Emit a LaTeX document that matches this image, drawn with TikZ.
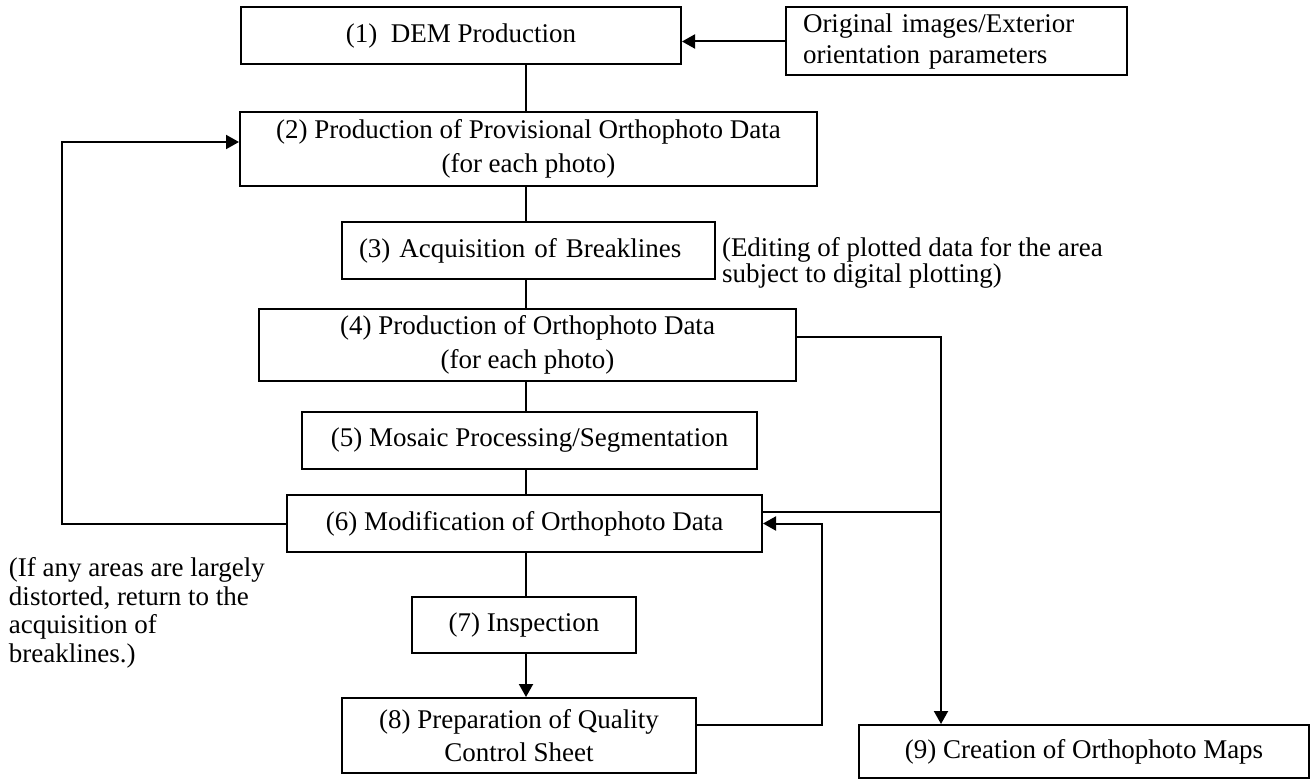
\documentclass[tikz,border=0pt]{standalone}
\usepackage{fontspec}
\setmainfont{Liberation Serif}
\usetikzlibrary{arrows.meta,calc}
\begin{document}
\begin{tikzpicture}[x=0.5pt,y=-0.5pt,line width=1pt,
  box/.style={draw,line width=1pt,inner sep=2pt,align=center,
    font=\fontsize{13.5}{17}\selectfont},
  leftbox/.style={box,align=left,inner xsep=8.5pt},
  remark/.style={inner sep=0pt,align=left,anchor=west},
  arr/.style={-{Triangle[length=6.5pt,width=7pt]}}]
\useasboundingbox (0,0) rectangle (1311,780);

% process boxes
\node[box,minimum width=220pt,minimum height=28.5pt] (b1) at (461,36) {(1)\ \ DEM Production};
\node[leftbox,text width=153.5pt,minimum height=34pt,
  font=\fontsize{13.5}{15.5}\selectfont] (orig) at (956.5,41.5)
  {Original images/Exterior\\orientation parameters};
\node[box,minimum width=288.5pt,minimum height=37pt] (b2) at (528.5,149)
  {(2) Production of Provisional Orthophoto Data\\(for each photo)};
\node[leftbox,text width=169.5pt,minimum height=28.5pt] (b3) at (528.5,250.5)
  {(3) Acquisition of Breaklines};
\node[box,minimum width=268.5pt,minimum height=36pt] (b4) at (527.5,345)
  {(4) Production of Orthophoto Data\\(for each photo)};
\node[box,minimum width=227.5pt,minimum height=28.5pt] (b5) at (529.5,440.5)
  {(5) Mosaic Processing/Segmentation};
\node[box,minimum width=237.5pt,minimum height=28.5pt] (b6) at (524.5,523.5)
  {(6) Modification of Orthophoto Data};
\node[box,minimum width=112pt,minimum height=28pt] (b7) at (524,625)
  {(7) Inspection};
\node[box,minimum width=177pt,minimum height=37.5pt,
  font=\fontsize{13.5}{16.5}\selectfont] (b8) at (519,735.5)
  {(8) Preparation of Quality\\Control Sheet};
\node[box,minimum width=225pt,minimum height=26.5pt] (b9) at (1084,751.5)
  {(9) Creation of Orthophoto Maps};

% side remarks
\node[remark,font=\fontsize{13.5}{11}\selectfont] (edit) at (721,263)
  {(Editing of plotted data for the area\\subject to digital plotting)};
\node[remark,font=\fontsize{13.5}{14.25}\selectfont] (ret) at (8,613)
  {(If any areas are largely\\distorted, return to the\\acquisition of\\breaklines.)};

% main vertical flow
\coordinate (spine) at (526,0);
\draw (b1.south -| spine) -- (b2.north -| spine);
\draw (b2.south -| spine) -- (b3.north -| spine);
\draw (b3.south -| spine) -- (b4.north -| spine);
\draw (b4.south -| spine) -- (b5.north -| spine);
\draw (b5.south -| spine) -- (b6.north -| spine);
\draw (b6.south -| spine) -- (b7.north -| spine);
\draw[arr] (b7.south -| spine) -- (b8.north -| spine);

% input to DEM production
\draw[arr] (orig.west) -- (orig.west -| b1.east);

% return loop to provisional orthophoto production
\coordinate (loop) at (62,142);
\draw[arr] (b6.west) -| (loop) -- (loop -| b2.west);

% branch to orthophoto maps
\coordinate (branch) at (941,337);
\coordinate (join) at (941,512);
\draw[arr] (b4.east |- branch) -- (branch) -- (branch |- b9.north);
\draw (join) -- (join -| b6.east);

% quality control feedback
\coordinate (qc) at (822,725);
\draw[arr] (b8.east |- qc) -- (qc) |- (b6.east);
\end{tikzpicture}
\end{document}
